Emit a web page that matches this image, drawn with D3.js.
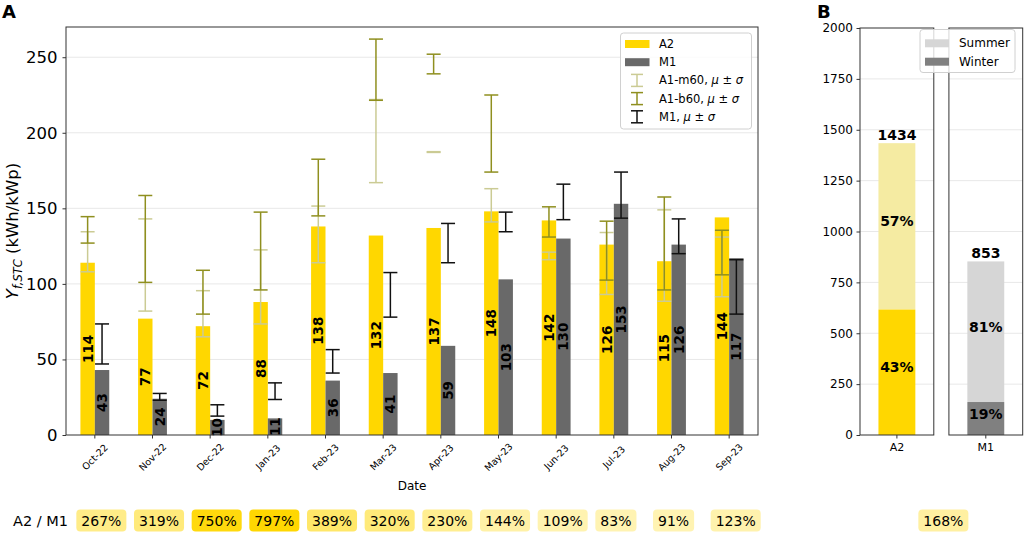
<!DOCTYPE html>
<html>
<head>
<meta charset="utf-8">
<script src="https://cdn.jsdelivr.net/npm/d3@7"></script>
<style>
  body { margin: 0; background: #fff; }
  svg text { font-family: 'DejaVu Sans', sans-serif; fill: #000; }
</style>
</head>
<body>
<svg id="chart" width="1024" height="534"></svg>
<script>
// ---- data ----
const months = ['Oct-22', 'Nov-22', 'Dec-22', 'Jan-23', 'Feb-23', 'Mar-23',
  'Apr-23', 'May-23', 'Jun-23', 'Jul-23', 'Aug-23', 'Sep-23']
const a2 = [114, 77, 72, 88, 138, 132, 137, 148, 142, 126, 115, 144]
const m1 = [43, 24, 10, 11, 36, 41, 59, 103, 130, 153, 126, 117]
// mu - sigma / mu + sigma
const a1m60Lo = [108, 82, 65, 73.5, 114, 167, 187, 141, 116, 93, 88.5, 91.5]
const a1m60Hi = [134.5, 143, 95.5, 122.5, 151.5, 222, 187.5, 163, 121, 134, 149, 131]
const a1b60Lo = [127, 101, 80, 96, 145, 221.5, 239, 174, 131, 102.5, 96, 106]
const a1b60Hi = [144.5, 158.5, 109, 147.5, 182.5, 262, 252, 225, 151, 141.5, 157.5, 135.5]
const m1Lo = [47, 23, 12.5, 23.5, 41, 78, 114, 134.5, 142.5, 143.5, 120, 80]
const m1Hi = [73.5, 27.5, 20, 34.5, 56.5, 107.5, 140, 147.5, 166, 174, 143, 116]
const ratios = [267, 319, 750, 797, 389, 320, 230, 144, 109, 83, 91, 123]
const ratioTotal = 168
const yTicksA = [0, 50, 100, 150, 200, 250]

// panel B
const sites = ['A2', 'M1']
const totals = [1434, 853]
const winterPct = [43, 19]
const summerPct = [57, 81]
const yTicksB = [0, 250, 500, 750, 1000, 1250, 1500, 1750, 2000]

// ---- colours ----
const cA2 = '#FFD700'
const cM1 = '#696969'
const cB60 = '#8f8f1f'
const cM60 = '#cbcb94'
const summerCol = { A2: '#f5eba2', M1: '#d6d6d6' }
const winterCol = { A2: '#FFD700', M1: '#808080' }
const frameCol = '#333'
const gridCol = '#e8e8e8'

const svg = d3.select('#chart')

// ================= panel A =================
const x = d3.scaleBand().domain(months).range([66, 758]).padding(0)
const y = d3.scaleLinear().domain([0, 270]).range([435, 27])
const bw = x.bandwidth()
const cx = m => x(m) + bw / 2
const barW = bw * 0.25

const gA = svg.append('g')

// grid
gA.selectAll('.gridA').data(yTicksA.filter(d => d > 0)).enter().append('line')
  .attr('x1', 66).attr('x2', 758)
  .attr('y1', d => y(d)).attr('y2', d => y(d))
  .attr('stroke', gridCol).attr('stroke-width', 1)

// bars
gA.selectAll('.barA2').data(a2).enter().append('rect')
  .attr('x', (d, i) => cx(months[i]) - barW)
  .attr('width', barW)
  .attr('y', d => y(d))
  .attr('height', d => y(0) - y(d))
  .attr('fill', cA2)
gA.selectAll('.barM1').data(m1).enter().append('rect')
  .attr('x', (d, i) => cx(months[i]))
  .attr('width', barW)
  .attr('y', d => y(d))
  .attr('height', d => y(0) - y(d))
  .attr('fill', cM1)

// error bars
function errorBars(lo, hi, offset, color) {
  const cap = 7
  lo.forEach((l, i) => {
    const xc = cx(months[i]) + offset
    const g = gA.append('g').attr('stroke', color).attr('stroke-width', 1.5)
    g.append('line').attr('x1', xc).attr('x2', xc).attr('y1', y(l)).attr('y2', y(hi[i]))
    g.append('line').attr('x1', xc - cap).attr('x2', xc + cap).attr('y1', y(l)).attr('y2', y(l))
    g.append('line').attr('x1', xc - cap).attr('x2', xc + cap).attr('y1', y(hi[i])).attr('y2', y(hi[i]))
  })
}
errorBars(a1m60Lo, a1m60Hi, -barW / 2, cM60)
errorBars(a1b60Lo, a1b60Hi, -barW / 2, cB60)
errorBars(m1Lo, m1Hi, barW / 2, '#111')

// value labels
function barLabels(vals, offset) {
  gA.selectAll(null).data(vals).enter().append('text')
    .attr('transform', (d, i) => `translate(${cx(months[i]) + offset},${y(d / 2)}) rotate(-90)`)
    .attr('text-anchor', 'middle')
    .attr('dominant-baseline', 'central')
    .style('font-size', '13.5px')
    .style('font-weight', 'bold')
    .text(d => d)
}
barLabels(a2, -barW / 2)
barLabels(m1, barW / 2)

// axes
const yAxisA = gA.append('g').attr('transform', 'translate(66,0)')
  .call(d3.axisLeft(y).tickValues(yTicksA).tickSize(3.5).tickPadding(5))
yAxisA.select('.domain').remove()
yAxisA.selectAll('line').attr('stroke', frameCol)
yAxisA.selectAll('text').style('font-size', '16.5px').attr('fill', '#000')

const xAxisA = gA.append('g').attr('transform', 'translate(0,435)')
  .call(d3.axisBottom(x).tickSize(3.5))
xAxisA.select('.domain').remove()
xAxisA.selectAll('line').attr('stroke', frameCol)
xAxisA.selectAll('text')
  .attr('y', 0).attr('dy', null)
  .attr('text-anchor', 'middle')
  .attr('dominant-baseline', 'central')
  .attr('transform', 'translate(0,22) rotate(-45)')
  .style('font-size', '9.5px').attr('fill', '#000')

gA.append('rect').attr('x', 66).attr('y', 27).attr('width', 692).attr('height', 408)
  .attr('fill', 'none').attr('stroke', frameCol).attr('stroke-width', 1)

gA.append('text').attr('x', 412).attr('y', 490).attr('text-anchor', 'middle')
  .style('font-size', '12px').text('Date')

const yl = gA.append('text').attr('transform', 'translate(18,231) rotate(-90)')
  .attr('text-anchor', 'middle').style('font-size', '16.5px')
yl.append('tspan').style('font-style', 'italic').text('Y')
yl.append('tspan').style('font-style', 'italic').style('font-size', '11.5px').attr('dy', 4).text('f,STC')
yl.append('tspan').attr('dy', -4).text(' (kWh/kWp)')

// legend A
const lgA = gA.append('g')
lgA.append('rect').attr('x', 620.5).attr('y', 33).attr('width', 131).attr('height', 96).attr('rx', 3)
  .attr('fill', '#fff').attr('fill-opacity', 0.8).attr('stroke', '#d0d0d0')
const legItems = [
  { t: 'A2', kind: 'patch', c: cA2 },
  { t: 'M1', kind: 'patch', c: cM1 },
  { t: 'A1-m60, ', kind: 'err', c: cM60 },
  { t: 'A1-b60, ', kind: 'err', c: cB60 },
  { t: 'M1, ', kind: 'err', c: '#111' }
]
legItems.forEach((d, i) => {
  const ly = 44 + i * 18.2
  if (d.kind === 'patch') {
    lgA.append('rect').attr('x', 625).attr('y', ly - 4).attr('width', 24.5).attr('height', 8).attr('fill', d.c)
  } else {
    const g = lgA.append('g').attr('stroke', d.c).attr('stroke-width', 1.5)
    g.append('line').attr('x1', 637).attr('x2', 637).attr('y1', ly - 6).attr('y2', ly + 6)
    g.append('line').attr('x1', 631).attr('x2', 643).attr('y1', ly - 6).attr('y2', ly - 6)
    g.append('line').attr('x1', 631).attr('x2', 643).attr('y1', ly + 6).attr('y2', ly + 6)
  }
  const t = lgA.append('text').attr('x', 659).attr('y', ly).attr('dominant-baseline', 'central')
    .style('font-size', '11.5px').text(d.t)
  if (d.kind === 'err') {
    t.append('tspan').style('font-style', 'italic').text('μ')
    t.append('tspan').text(' ± ')
    t.append('tspan').style('font-style', 'italic').text('σ')
  }
})

// ================= panel B =================
const xB = d3.scaleBand().domain(sites).range([860, 1022.7]).paddingInner(0.17).paddingOuter(0)
const yB = d3.scaleLinear().domain([0, 2000]).range([435, 28])
const bwB = xB.bandwidth()
const gB = svg.append('g')

sites.forEach((s, i) => {
  const x0 = xB(s)
  yTicksB.filter(d => d > 0 && d < 2000).forEach(t => {
    gB.append('line').attr('x1', x0).attr('x2', x0 + bwB).attr('y1', yB(t)).attr('y2', yB(t))
      .attr('stroke', gridCol)
  })
  const bx = x0 + bwB / 4
  const winterVal = totals[i] * winterPct[i] / 100
  gB.append('rect').attr('x', bx).attr('width', bwB / 2)
    .attr('y', yB(totals[i])).attr('height', yB(winterVal) - yB(totals[i]))
    .attr('fill', summerCol[s])
  gB.append('rect').attr('x', bx).attr('width', bwB / 2)
    .attr('y', yB(winterVal)).attr('height', yB(0) - yB(winterVal))
    .attr('fill', winterCol[s])
  const mid = x0 + bwB / 2
  const lab = (txt, v) => gB.append('text').attr('x', mid).attr('y', yB(v)).attr('text-anchor', 'middle')
    .style('font-size', '14px').style('font-weight', 'bold').text(txt)
  lab(totals[i], totals[i] + 15)
  lab(summerPct[i] + '%', (winterVal + totals[i]) / 2)
  lab(winterPct[i] + '%', winterVal / 2)

  // x tick
  gB.append('line').attr('x1', mid).attr('x2', mid).attr('y1', 435).attr('y2', 438.5).attr('stroke', frameCol)
  gB.append('text').attr('x', mid).attr('y', 451).attr('text-anchor', 'middle')
    .style('font-size', '11px').text(s)
})

const yAxisB = gB.append('g').attr('transform', `translate(${xB('A2')},0)`)
  .call(d3.axisLeft(yB).tickValues(yTicksB).tickFormat(d3.format('d')).tickSize(3.5).tickPadding(3.5))
yAxisB.select('.domain').remove()
yAxisB.selectAll('line').attr('stroke', frameCol)
yAxisB.selectAll('text').style('font-size', '12px').attr('fill', '#000')

sites.forEach(s => {
  gB.append('rect').attr('x', xB(s)).attr('y', 28).attr('width', bwB).attr('height', 407)
    .attr('fill', 'none').attr('stroke', frameCol)
})

// legend B
const lgB = gB.append('g')
lgB.append('rect').attr('x', 920).attr('y', 29.5).attr('width', 95).attr('height', 43).attr('rx', 3)
  .attr('fill', '#fff').attr('fill-opacity', 0.8).attr('stroke', '#d0d0d0')
;[['Summer', summerCol.M1], ['Winter', winterCol.M1]].forEach((d, i) => {
  const ly = 43.3 + i * 18.4
  lgB.append('rect').attr('x', 925).attr('y', ly - 4).attr('width', 24).attr('height', 8).attr('fill', d[1])
  lgB.append('text').attr('x', 959).attr('y', ly).attr('dominant-baseline', 'central')
    .style('font-size', '12px').text(d[0])
})

// panel letters
svg.append('text').attr('x', 2).attr('y', 18).style('font-size', '18px').style('font-weight', 'bold').text('A')
svg.append('text').attr('x', 817).attr('y', 18).style('font-size', '18px').style('font-weight', 'bold').text('B')

// ================= ratio row =================
const alpha = d3.scaleLinear().domain([100, 800]).range([0.3, 1]).clamp(true)
const gR = svg.append('g')
gR.append('text').attr('x', 13).attr('y', 526).style('font-size', '14.5px').text('A2 / M1')

function ratioBox(left, val) {
  const t = gR.append('text').attr('x', left + 5).attr('y', 526).style('font-size', '14px').text(val + '%')
  const w = t.node().getComputedTextLength() + 10
  gR.insert('rect', 'text').attr('x', left).attr('y', 509.5).attr('width', w).attr('height', 22)
    .attr('rx', 4).attr('fill', cA2).attr('fill-opacity', alpha(val))
}
ratios.forEach((r, i) => ratioBox(cx(months[i]) - 18.5, r))
ratioBox((xB('A2') + xB('M1') + bwB) / 2 - 23, ratioTotal)
</script>
</body>
</html>
